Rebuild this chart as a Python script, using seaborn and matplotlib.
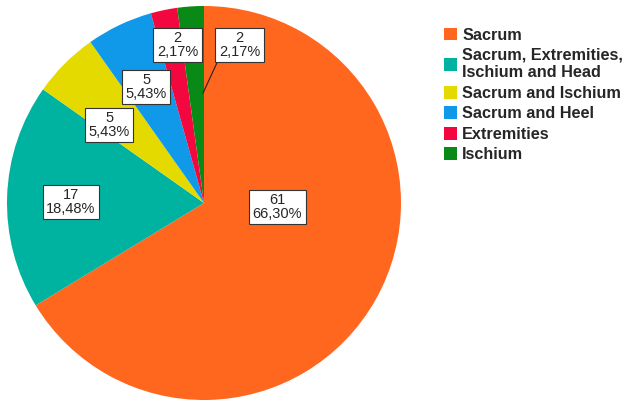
import matplotlib
matplotlib.use("Agg")
import matplotlib.pyplot as plt
import seaborn as sns

categories = ["Sacrum", "Sacrum, Extremities,\nIschium and Head", "Sacrum and Ischium",
              "Sacrum and Heel", "Extremities", "Ischium"]
counts = [61, 17, 5, 5, 2, 2]
percent_labels = ["66,30%", "18,48%", "5,43%", "5,43%", "2,17%", "2,17%"]
colors = ["#FF671F", "#00B3A0", "#E5DA00", "#0F99E8", "#F2073F", "#098A16"]

sns.set_theme(style="white")
plt.rcParams["font.family"] = ["Liberation Sans", "DejaVu Sans"]

fig = plt.figure(figsize=(6.25, 4.01), dpi=100)
ax = fig.add_axes([7 / 625, 1 / 401, 394 / 625, 394 / 401])
wedges, _ = ax.pie(counts, colors=colors, startangle=90, counterclock=False,
                   radius=1.0, wedgeprops=dict(linewidth=0))
ax.set_xlim(-1, 1)
ax.set_ylim(-1, 1)
ax.set_aspect("equal")
ax.axis("off")

# label box centres in data units
label_pos = [(0.373, -0.02), (-0.675, 0.005), (-0.482, 0.396),
             (-0.294, 0.589), (-0.135, 0.802), (0.180, 0.802)]
box = dict(boxstyle="square,pad=0.25", fc="white", ec="#333333", lw=0.8)
for i, (n, p) in enumerate(zip(counts, percent_labels)):
    x, y = label_pos[i]
    if i == 5:
        ax.annotate(f"{n}\n{p}", xy=(-0.005, 0.558), xytext=(x, y),
                    ha="center", va="center", fontsize=10.5, linespacing=0.95,
                    bbox=box,
                    arrowprops=dict(arrowstyle="-", color="#222222", lw=0.8,
                                    shrinkA=0, shrinkB=0,
                                    relpos=(0.0, 0.0)))
    else:
        ax.text(x, y, f"{n}\n{p}", ha="center", va="center", fontsize=10.5,
                linespacing=0.95, bbox=box)

leg = fig.legend(wedges, categories, loc="upper left", bbox_to_anchor=(437 / 625, 1 - 21 / 401),
                 frameon=False, prop=dict(weight="bold", size=11.7),
                 handlelength=0.85, handleheight=0.85, handletextpad=0.3,
                 labelspacing=0.33, borderaxespad=0)

fig.savefig("out.png", dpi=100)
